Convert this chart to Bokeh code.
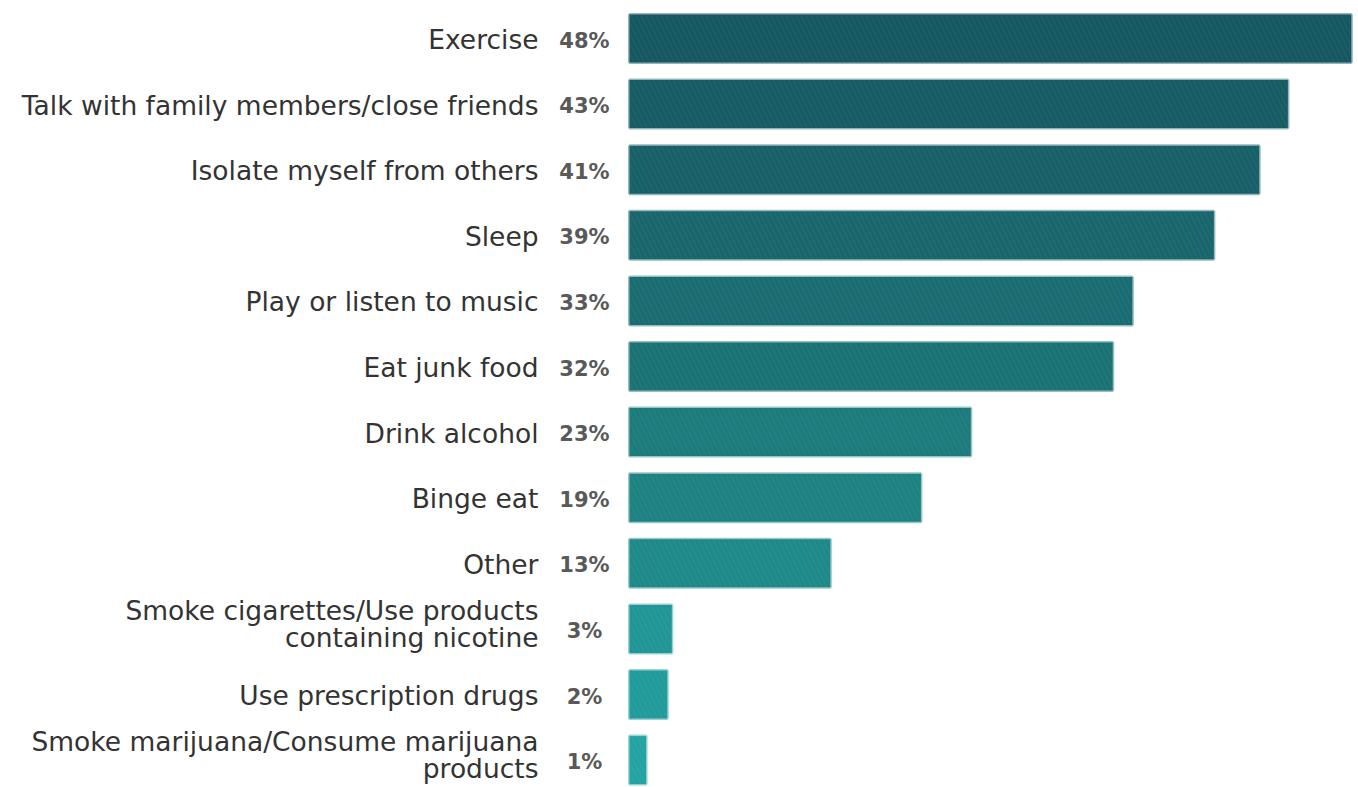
from bokeh.plotting import figure
from bokeh.models import ColumnDataSource, Range1d
from bokeh.core.properties import value
from bokeh.embed import file_html
from bokeh.resources import INLINE

categories = [
    "Exercise",
    "Talk with family members/close friends",
    "Isolate myself from others",
    "Sleep",
    "Play or listen to music",
    "Eat junk food",
    "Drink alcohol",
    "Binge eat",
    "Other",
    "Smoke cigarettes/Use products\ncontaining nicotine",
    "Use prescription drugs",
    "Smoke marijuana/Consume marijuana\nproducts",
]
values = [47.8, 43.6, 41.7, 38.7, 33.3, 32.0, 22.6, 19.3, 13.3, 2.8, 2.5, 1.1]
pct_labels = ["48%", "43%", "41%", "39%", "33%", "32%", "23%", "19%", "13%", "3%", "2%", "1%"]
colors = ["#145660", "#155b63", "#165f67", "#17656b", "#186b70", "#197174",
          "#1b7a7b", "#1c8181", "#1d8888", "#1f9596", "#209a9a", "#22a2a2"]

rows = list(range(len(categories)))
src = ColumnDataSource(dict(
    y=rows,
    left=[0] * len(values),
    right=values,
    cat=categories,
    pct=pct_labels,
    color=colors,
    zero=[0] * len(values),
    yoff=[-5 if "\n" in c else 1 for c in categories],
))

W, H = 1358, 787
px_per_unit = 15.1
x0_px = 629
row_px = 65.6
top_px = 38

p = figure(width=W, height=H, output_backend="svg", toolbar_location=None,
           min_border=0, min_border_left=0, min_border_right=0,
           min_border_top=0, min_border_bottom=0,
           x_range=Range1d(-x0_px / px_per_unit, (W - x0_px) / px_per_unit),
           y_range=Range1d(-top_px / row_px + H / row_px, -top_px / row_px))
p.axis.visible = False
p.grid.visible = False
p.outline_line_color = None
p.background_fill_color = "white"
p.border_fill_color = "white"

bar_h = 48 / row_px
p.hbar(y="y", left="left", right="right", height=bar_h, source=src,
       fill_color="color", line_color="color", line_alpha=0.45, line_width=3,
       hatch_pattern="left_diagonal_line", hatch_color="white", hatch_alpha=0.04,
       hatch_scale=10, hatch_weight=2)

p.text(x="zero", y="y", text="cat", source=src, x_offset=-91, y_offset="yoff",
       text_align="right", text_baseline="middle",
       text_font=value("DejaVu Sans"), text_font_size="26.5px",
       text_color="#333333", text_line_height=0.88)

p.text(x="zero", y="y", text="pct", source=src, x_offset=-45, y_offset=2,
       text_align="center", text_baseline="middle",
       text_font=value("DejaVu Sans"), text_font_size="21px", text_font_style="bold",
       text_color="#595959")

open("out.html", "w").write(file_html(p, INLINE))
